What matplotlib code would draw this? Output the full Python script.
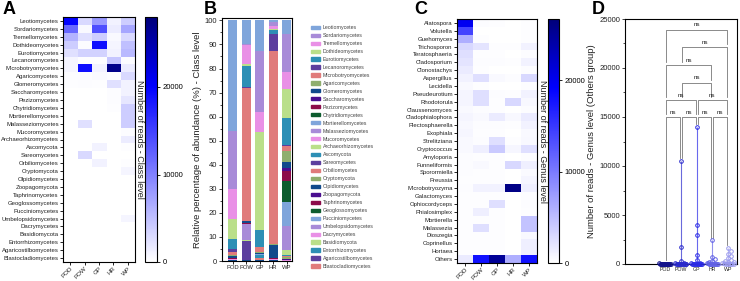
import matplotlib
matplotlib.use('Agg')
import matplotlib.pyplot as plt
import numpy as np
import matplotlib.patches as mpatches
from matplotlib.colors import LinearSegmentedColormap

plt.rcParams['font.family'] = ['Liberation Sans', 'DejaVu Sans']

groups = ['POD', 'POW', 'GP', 'HR', 'WP']

# ---- panel A / B : class level
classes = ['Leotiomycetes', 'Sordariomycetes', 'Tremellomycetes', 'Dothideomycetes', 'Eurotiomycetes',
           'Lecanoromycetes', 'Microbotryomycetes', 'Agaricomycetes', 'Glomeromycetes', 'Saccharomycetes',
           'Pezizomycetes', 'Chytridiomycetes', 'Mortierellomycetes', 'Malasseziomycetes', 'Mucoromycetes',
           'Archaeorhizomycetes', 'Ascomycota', 'Sareomycetes', 'Orbiliomycetes', 'Cryptomycota',
           'Olpidiomycetes', 'Zoopagomycota', 'Taphrinomycetes', 'Geoglossomycetes', 'Pucciniomycetes',
           'Umbelopsidomycetes', 'Dacrymycetes', 'Basidiomycota', 'Entorrhizomycetes', 'Agaricostilbomycetes',
           'Blastocladiomycetes']

a_pod = [20000, 12000, 6000, 4000, 2500, 800, 800, 300, 200, 100, 100, 100, 100, 100, 100, 100,
         50, 50, 50, 50, 30, 30, 30, 30, 30, 30, 30, 30, 30, 30, 30]
a_pow = [3000, 500, 2500, 300, 3500, 200, 19000, 300, 300, 100, 100, 100, 100, 2500, 100, 100,
         100, 3000, 100, 100, 50, 50, 50, 50, 100, 100, 50, 50, 50, 50, 50]
a_gp = [8000, 14000, 4000, 19000, 3500, 200, 1000, 500, 200, 100, 100, 100, 100, 100, 100, 100,
        1000, 100, 1000, 100, 50, 50, 50, 50, 50, 50, 50, 50, 50, 50, 50]
a_hr = [1000, 1500, 500, 800, 1000, 4500, 27000, 300, 2500, 300, 300, 200, 100, 100, 100, 100,
        50, 50, 50, 100, 30, 30, 30, 30, 30, 30, 30, 30, 30, 30, 30]
a_wp = [4000, 7000, 3000, 5000, 5500, 300, 1500, 3000, 1000, 1000, 2000, 4000, 4000, 4000, 300, 1500,
        200, 100, 200, 800, 50, 50, 50, 50, 50, 800, 50, 50, 50, 50, 50]

b_pod = [46.0, 24.3, 12.4, 8.2, 4.1, 1.4, 1.1, 0.4, 0.8, 0.2, 0.2, 0.1, 0.1, 0.1, 0.1, 0.1,
         0.1, 0.05, 0.05, 0.05, 0.02, 0.02, 0.02, 0.02, 0.02, 0.02, 0.02, 0.02, 0.02, 0.02, 0.02]
b_pow = [9.7, 0.4, 8.2, 0.6, 8.8, 0.2, 55.3, 0.3, 0.8, 0.1, 0.1, 0.1, 0.2, 6.5, 0.1, 0.1,
         0.2, 7.9, 0.1, 0.1, 0.02, 0.02, 0.02, 0.02, 0.02, 0.02, 0.02, 0.02, 0.02, 0.02, 0.02]
b_gp = [12.9, 25.1, 8.6, 41.0, 6.7, 0.3, 2.1, 0.3, 0.3, 0.1, 0.1, 0.1, 0.1, 0.1, 0.1, 0.1,
        1.0, 0.2, 0.8, 0.1, 0.02, 0.02, 0.02, 0.02, 0.02, 0.02, 0.02, 0.02, 0.02, 0.02, 0.02]
b_hr = [0.6, 1.6, 1.3, 0.7, 1.6, 6.9, 80.5, 0.3, 5.4, 0.2, 0.2, 0.1, 0.1, 0.1, 0.1, 0.1,
        0.1, 0.05, 0.05, 0.1, 0.02, 0.02, 0.02, 0.02, 0.02, 0.02, 0.02, 0.02, 0.02, 0.02, 0.02]
b_wp = [5.8, 15.9, 6.9, 12.1, 11.5, 0.2, 2.0, 4.6, 2.5, 1.4, 4.2, 8.7, 10.0, 9.9, 0.3, 2.2,
        0.3, 0.1, 0.2, 1.0, 0.05, 0.05, 0.05, 0.05, 0.05, 0.2, 0.05, 0.05, 0.05, 0.05, 0.05]

palette = ['#7fa5db', '#a88bd8', '#e990e6', '#badf8a', '#2d8fb5', '#5c3f9e',
           '#e07b7b', '#8fae6e', '#114a8c', '#4a0e8f', '#8c0c4a', '#0d5c2e']

# ---- panel C : genus level
genera = ['Alatospora', 'Volutella', 'Guehomyces', 'Trichosporon', 'Teratosphaeria', 'Cladosporium',
          'Clonostachys', 'Aspergillus', 'Lecidella', 'Pseudeurotium', 'Rhodotorula', 'Claussenomyces',
          'Cladophialophora', 'Plectosphaerella', 'Exophiala', 'Strelitziana', 'Cryptococcus', 'Amyloporia',
          'Funneliformis', 'Sporormiella', 'Preussia', 'Microbotryozyma', 'Galactomyces', 'Ophiocordyceps',
          'Phialosimplex', 'Mortierella', 'Malassezia', 'Dioszegia', 'Coprinellus', 'Hortaea', 'Others']

c_pod = [20000, 14000, 6000, 3000, 2500, 2000, 1500, 1000, 500, 800, 800, 500, 800, 600, 700, 500,
         500, 300, 300, 300, 200, 300, 200, 200, 200, 200, 200, 200, 200, 200, 1500]
c_pow = [300, 100, 200, 2000, 200, 300, 200, 2500, 200, 2500, 2500, 300, 500, 300, 200, 300,
         1200, 200, 500, 200, 200, 1000, 200, 200, 1200, 200, 2500, 200, 200, 200, 18000]
c_gp = [200, 100, 100, 200, 200, 300, 100, 500, 100, 300, 200, 200, 1500, 300, 200, 2500,
        4000, 200, 200, 200, 200, 1000, 200, 2500, 200, 200, 200, 200, 200, 200, 25000]
c_hr = [100, 100, 100, 200, 100, 200, 100, 300, 100, 200, 3000, 100, 600, 200, 100, 200,
        700, 100, 3000, 100, 100, 26000, 100, 100, 100, 100, 100, 100, 100, 100, 6000]
c_wp = [200, 200, 200, 1000, 300, 1000, 300, 3000, 300, 1000, 600, 300, 1500, 1000, 500, 600,
        2500, 300, 1200, 400, 800, 1200, 300, 300, 200, 4500, 4500, 500, 1200, 1200, 18000]

# ---- panel D : reads of genera in the Others group
d_pod = [80, 50, 30, 20, 10, 5, 5, 0, 0, 0, 0, 0, 0, 0, 0, 0, 0, 0]
d_pow = [10500, 1700, 350, 150, 80, 50, 30, 20, 10, 5, 0, 0, 0, 0, 0, 0, 0, 0]
d_gp = [14000, 3950, 3000, 900, 400, 150, 80, 40, 20, 10, 0, 0, 0, 0, 0, 0, 0, 0]
d_hr = [2400, 700, 500, 300, 200, 100, 60, 40, 20, 10, 0, 0, 0, 0, 0, 0, 0, 0]
d_wp = [1600, 1300, 1000, 800, 600, 450, 350, 250, 180, 120, 80, 50, 30, 10, 0, 0, 0, 0]
d_colors = ['#14148c', '#2b2bcc', '#2a2ae6', '#6262e6', '#9a9aee']

pairs = [(0, 1), (1, 2), (2, 3), (3, 4), (0, 2), (2, 4), (1, 3), (0, 3), (1, 4), (0, 4)]
pair_y = [15000, 15000, 15000, 15000, 16700, 16700, 18500, 20300, 22100, 23900]

cmap = LinearSegmentedColormap.from_list('wb', [(0, 'white'), (0.72, '#0000ff'), (1, '#00007a')])
txt = '#222222'

fig = plt.figure(figsize=(7.4, 2.81), dpi=100)
W, H = 740.0, 281.0


def box(l, r, t, b):
    return [l / W, (H - b) / H, (r - l) / W, (b - t) / H]


def heatmap(ax, cax, cols, names, vmax, label):
    mat = np.array(cols).T
    im = ax.imshow(mat, cmap=cmap, vmin=0, vmax=vmax, aspect='auto', interpolation='nearest')
    ax.set_yticks(range(len(names)))
    ax.set_yticklabels(names, fontsize=4.3, color=txt)
    ax.set_xticks(range(len(groups)))
    ax.set_xticklabels(groups, fontsize=4.5, rotation=45, ha='right', rotation_mode='anchor', color=txt)
    ax.tick_params(length=2, width=0.6, pad=1)
    for s in ax.spines.values():
        s.set_linewidth(0.8)
    cb = fig.colorbar(im, cax=cax)
    cb.set_ticks([0, 10000, 20000])
    cb.ax.tick_params(labelsize=5.5, length=2, width=0.6, pad=2)
    cb.outline.set_linewidth(0.8)
    cax.yaxis.set_label_position('left')
    cax.set_ylabel(label, rotation=270, fontsize=6.5, labelpad=7, color=txt)


# A
axA = fig.add_axes(box(63, 135, 17, 262))
caxA = fig.add_axes(box(145, 157, 17, 262))
heatmap(axA, caxA, [a_pod, a_pow, a_gp, a_hr, a_wp], classes, 28000, 'Number of reads - Class level')

# B
axB = fig.add_axes(box(222, 292, 18, 261))
bvals = np.array([b_pod, b_pow, b_gp, b_hr, b_wp], dtype=float)
bvals = bvals / bvals.sum(axis=1, keepdims=True) * 100
x = np.arange(len(groups))
bottom = np.zeros(len(groups))
handles = []
for k in range(len(classes) - 1, -1, -1):
    col = palette[k % len(palette)]
    axB.bar(x, bvals[:, k], bottom=bottom, width=0.66, color=col, linewidth=0)
    bottom += bvals[:, k]
for k, name in enumerate(classes):
    handles.append(mpatches.Patch(color=palette[k % len(palette)], label=name))
axB.set_xlim(-0.8, 4.4)
axB.set_ylim(0, 101)
axB.set_yticks(range(0, 101, 10))
axB.set_yticks(range(5, 100, 10), minor=True)
axB.set_xticks(x)
axB.set_xticklabels(groups, fontsize=4.2, color=txt)
axB.tick_params(axis='y', labelsize=5.5, length=2.5, width=0.6, pad=1, colors=txt)
axB.tick_params(axis='y', which='minor', length=1.5, width=0.5)
axB.tick_params(axis='x', length=2, width=0.6, pad=1)
for s in axB.spines.values():
    s.set_linewidth(0.8)
axB.set_ylabel('Relative percentage of abundance (%) - Class level', fontsize=6.8, labelpad=2, color=txt)
leg = axB.legend(handles=handles, loc='upper left', bbox_to_anchor=((310 - 222) / 70.0, 0.975),
                 frameon=False, fontsize=3.8, handlelength=1.6, handleheight=0.55, handletextpad=0.6,
                 labelspacing=0.56, borderaxespad=0, borderpad=0.2)
for t in leg.get_texts():
    t.set_color('#444444')

# C
axC = fig.add_axes(box(457, 537, 19, 263))
caxC = fig.add_axes(box(548, 559, 19, 263))
heatmap(axC, caxC, [c_pod, c_pow, c_gp, c_hr, c_wp], genera, 26700, 'Number of reads - Genus level')

# D
axD = fig.add_axes(box(625, 737, 19, 264))
axD.set_xlim(-2.53, 4.56)
axD.set_ylim(0, 25000)
dsets = [d_pod, d_pow, d_gp, d_hr, d_wp]
xpp = (4.56 + 2.53) / 112.0
ypp = 25000 / 245.0
msz = 3.0
for g, vals in enumerate(dsets):
    vals = sorted(vals, reverse=True)
    high = [v for v in vals if v >= 150]
    low = [v for v in vals if v < 150]
    placed = []
    for v in high:
        off = 0.0
        for step in range(7):
            off = ((step + 1) // 2) * (1 if step % 2 else -1) * msz * xpp
            if all(abs(off - px) / xpp >= msz or abs(v - py) / ypp >= msz for px, py in placed):
                break
        placed.append((off, v))
    px = np.array([p[0] for p in placed] + list(np.linspace(-0.36, 0.36, len(low)))) + g
    py = np.array([p[1] for p in placed] + low)
    axD.vlines(g, 0, max(vals), color=d_colors[g], lw=0.8, alpha=0.7)
    axD.hlines(np.median(vals), g - 0.32, g + 0.32, color=d_colors[g], lw=1.4, clip_on=False)
    axD.plot(px, py, 'o', mfc='none', mec=d_colors[g], ms=2.6, mew=0.7, clip_on=False, zorder=3)

gap = 300
for (i, j), h in zip(pairs, pair_y):
    x1, x2 = i + 0.06, j - 0.06
    legs = []
    for g, xx in ((i, x1), (j, x2)):
        below = [max(dsets[g])]
        for (i2, j2), h2 in zip(pairs, pair_y):
            if h2 < h and i2 <= g <= j2:
                below.append(h2)
        legs.append((xx, max(below) + gap))
    axD.plot([legs[0][0], legs[0][0], legs[1][0], legs[1][0]],
             [legs[0][1], h, h, legs[1][1]], color='#777777', lw=0.6)
    axD.text((x1 + x2) / 2, h + 250, 'ns', ha='center', va='bottom', fontsize=4.5, color=txt)

axD.set_xticks(range(len(groups)))
axD.set_xticklabels(groups, fontsize=3.8, color=txt)
axD.set_yticks(range(0, 25001, 5000))
axD.set_yticks(range(2500, 25000, 5000), minor=True)
axD.tick_params(axis='y', labelsize=5.5, length=2.5, width=0.6, pad=1, colors=txt)
axD.tick_params(axis='y', which='minor', length=1.5, width=0.5)
axD.tick_params(axis='x', length=1.5, width=0.5, pad=1)
for s in axD.spines.values():
    s.set_linewidth(0.8)
axD.set_ylabel('Number of reads - Genus level (Others group)', fontsize=6.8, labelpad=2, color=txt)

for lab, xp in (('A', 3), ('B', 204), ('C', 414), ('D', 592)):
    fig.text(xp / W, 1 - 1 / H, lab, fontsize=13, fontweight='bold', va='top', ha='left')

fig.savefig('out.png', dpi=100)
